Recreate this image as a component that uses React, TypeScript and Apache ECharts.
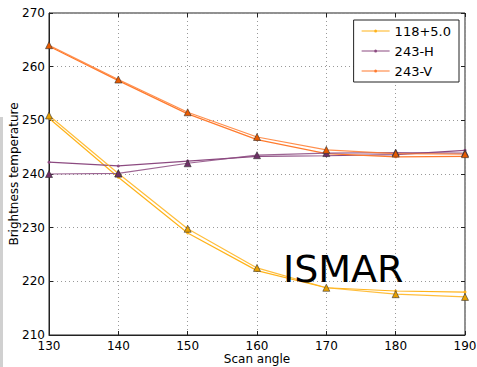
import React, { useEffect, useRef } from "react";
import * as echarts from "echarts";

const angles = [130, 140, 150, 160, 170, 180, 190];
const seriesNames = ["118+5.0", "243-H", "243-V"];
const dot118 = [250.4, 239.4, 229.0, 222.0, 218.8, 218.2, 218.0];
const tri118 = [250.9, 240.1, 229.8, 222.5, 218.8, 217.6, 217.1];
const dotH = [242.2, 241.5, 242.4, 243.3, 243.4, 243.6, 244.4];
const triH = [240.0, 240.1, 242.0, 243.5, 243.9, 244.0, 243.9];
const dotV = [263.8, 257.4, 251.2, 246.4, 243.8, 243.2, 243.3];
const triV = [264.0, 257.6, 251.5, 246.9, 244.5, 243.8, 243.7];
const xTicks = [130, 140, 150, 160, 170, 180, 190];
const yTicks = [210, 220, 230, 240, 250, 260, 270];
const xName = "Scan angle";
const yName = "Brightness temperature";

const lineColors = ["#ffb31a", "#8c4a80", "#ff7b2e"];
const triColors = ["#e8a000", "#6e2f66", "#e85a00"];

const FONT = "DejaVu Sans";
const LEGEND_ICON =
  "path://M0,1 L28,1 L28,2 L0,2 Z M12.5,1.5 A1.5,1.5 0 1 1 15.5,1.5 A1.5,1.5 0 1 1 12.5,1.5 Z";

export default function App() {
  const ref = useRef<HTMLDivElement>(null);
  useEffect(() => {
    if (!ref.current) return;
    const chart = echarts.init(ref.current, null, { renderer: "svg" });
    const dots = [dot118, dotH, dotV];
    const tris = [tri118, triH, triV];
    const series: any[] = [];
    for (let i = 0; i < 3; i++) {
      series.push({
        name: seriesNames[i] + " ",
        type: "line",
        data: angles.map((a, k) => [a, tris[i][k]]),
        symbol: "triangle",
        symbolSize: 7,
        showSymbol: true,
        lineStyle: { color: lineColors[i], width: 1.2, opacity: 0.85 },
        itemStyle: { color: triColors[i], borderColor: "#333", borderWidth: 0.6 },
        z: 3,
      });
      series.push({
        name: seriesNames[i],
        type: "line",
        data: angles.map((a, k) => [a, dots[i][k]]),
        symbol: "circle",
        symbolSize: 3,
        lineStyle: { color: lineColors[i], width: 1.2 },
        itemStyle: { color: lineColors[i] },
        z: 2,
      });
    }
    chart.setOption({
      animation: false,
      backgroundColor: "#fff",
      textStyle: { fontFamily: FONT },
      grid: {
        left: 49,
        right: 12,
        top: 13,
        bottom: 32,
        outerBoundsMode: "none",
        containLabel: false,
        show: true,
        borderColor: "#222",
        borderWidth: 1,
        backgroundColor: "transparent",
      },
      legend: {
        data: seriesNames.map((n) => ({ name: n, icon: LEGEND_ICON })),
        orient: "vertical",
        right: 18,
        top: 20,
        padding: [4, 8, 4, 8],
        itemGap: 6,
        itemWidth: 28,
        itemHeight: 3,
        backgroundColor: "#fff",
        borderColor: "#222",
        borderWidth: 1,
        borderRadius: 0,
        textStyle: { fontFamily: FONT, fontSize: 13, color: "#000", lineHeight: 14 },
      },
      xAxis: [
        {
          type: "value",
          min: xTicks[0],
          max: xTicks[xTicks.length - 1],
          interval: 10,
          axisLine: { show: true, lineStyle: { color: "#222" } },
          axisTick: { inside: true, length: 4, lineStyle: { color: "#222" } },
          axisLabel: { fontFamily: FONT, fontSize: 12, color: "#000", margin: 5 },
          splitLine: { show: true, lineStyle: { color: "#999", type: [1, 3], width: 1 } },
        },
        {
          type: "value",
          position: "top",
          min: xTicks[0],
          max: xTicks[xTicks.length - 1],
          interval: 10,
          axisLine: { show: false },
          axisTick: { inside: true, length: 4, lineStyle: { color: "#222" } },
          axisLabel: { show: false },
          splitLine: { show: false },
        },
      ],
      yAxis: [
        {
          type: "value",
          min: yTicks[0],
          max: yTicks[yTicks.length - 1],
          interval: 10,
          axisLine: { show: true, lineStyle: { color: "#222" } },
          axisTick: { inside: true, length: 4, lineStyle: { color: "#222" } },
          axisLabel: { fontFamily: FONT, fontSize: 12, color: "#000", margin: 4 },
          splitLine: { show: true, lineStyle: { color: "#999", type: [1, 3], width: 1 } },
        },
        {
          type: "value",
          position: "right",
          min: yTicks[0],
          max: yTicks[yTicks.length - 1],
          interval: 10,
          axisLine: { show: false },
          axisTick: { inside: true, length: 4, lineStyle: { color: "#222" } },
          axisLabel: { show: false },
          splitLine: { show: false },
        },
      ],
      graphic: [
        {
          type: "text",
          x: 257,
          y: 359,
          style: {
            text: xName,
            fontFamily: FONT,
            fontSize: 12,
            fill: "#000",
            align: "center",
            verticalAlign: "middle",
          },
        },
        {
          type: "text",
          x: 14,
          y: 174,
          rotation: Math.PI / 2,
          style: {
            text: yName,
            fontFamily: FONT,
            fontSize: 12,
            fill: "#000",
            align: "center",
            verticalAlign: "middle",
          },
        },
        {
          type: "text",
          left: 283,
          top: 250,
          style: { text: "ISMAR", fontFamily: FONT, fontSize: 38, fill: "#000" },
          z: 10,
        },
        {
          type: "rect",
          shape: { x: 0, y: 117, width: 3, height: 250 },
          style: { fill: "#d0d0d0" },
        },
      ],
      series,
    });
    return () => chart.dispose();
  }, []);
  return (
    <div
      ref={ref}
      style={{ position: "fixed", left: 0, top: 0, width: 477, height: 367 }}
    />
  );
}
